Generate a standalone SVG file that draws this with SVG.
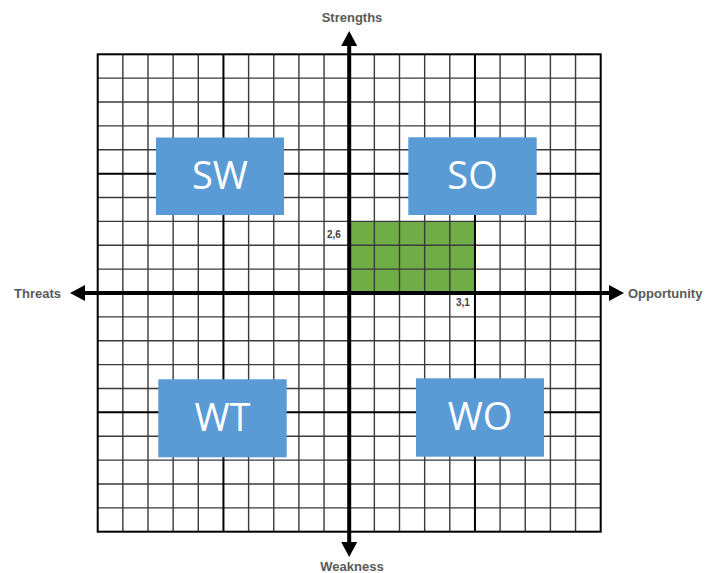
<svg xmlns="http://www.w3.org/2000/svg" width="710" height="573" viewBox="0 0 710 573">
<style>
.thin{stroke:#3a3a3a;stroke-width:1.4;fill:none}
.thick{stroke:#000;stroke-width:2;fill:none}
.axis{stroke:#000;stroke-width:4;fill:none}
.head{fill:#000}
.lbl{font-family:"Liberation Sans",Arial,sans-serif;font-weight:bold;font-size:13px;fill:#595959}
.coord{font-family:"Liberation Sans",Arial,sans-serif;font-weight:bold;font-size:10px;fill:#404040}
.box{fill:#5B9BD5}
.boxt{font-family:"Open Sans","Liberation Sans",Arial,sans-serif;font-size:38px;fill:#fff;text-anchor:middle}
</style>
<rect width="710" height="573" fill="#fff"/>
<g id="green-area">
<rect x="349.2" y="221.4" width="125.75" height="71.6" fill="#70AD47"/>
</g>
<g id="grid">
<path class="thin" d="M122.85 54.3V531.7M148 54.3V531.7M173.15 54.3V531.7M198.3 54.3V531.7M248.6 54.3V531.7M273.75 54.3V531.7M298.9 54.3V531.7M324.05 54.3V531.7M374.35 54.3V531.7M399.5 54.3V531.7M424.65 54.3V531.7M449.8 54.3V531.7M500.1 54.3V531.7M525.25 54.3V531.7M550.4 54.3V531.7M575.55 54.3V531.7"/>
<path class="thin" d="M97.7 78.17H600.7M97.7 102.04H600.7M97.7 125.91H600.7M97.7 149.78H600.7M97.7 197.52H600.7M97.7 221.39H600.7M97.7 245.26H600.7M97.7 269.13H600.7M97.7 316.87H600.7M97.7 340.74H600.7M97.7 364.61H600.7M97.7 388.48H600.7M97.7 436.22H600.7M97.7 460.09H600.7M97.7 483.96H600.7M97.7 507.83H600.7"/>
<path class="thick" d="M223.45 54.3V531.7M474.95 54.3V531.7M97.7 173.65H600.7M97.7 412.35H600.7"/>
<rect class="thick" x="97.7" y="54.3" width="503" height="477.4"/>
</g>
<g id="connectors">
<path class="axis" d="M349.2 44V545"/>
<polygon class="head" points="349.2,31 341.2,46 357.2,46"/>
<polygon class="head" points="349.2,557 341.2,542 357.2,542"/>
<path class="axis" d="M83 293H611"/>
<polygon class="head" points="70,293 85,285 85,301"/>
<polygon class="head" points="624,293 609,285 609,301"/>
</g>
<g id="label-strengths"><text class="lbl" x="352" y="22" text-anchor="middle">Strengths</text></g>
<g id="label-weakness"><text class="lbl" x="352" y="571" text-anchor="middle">Weakness</text></g>
<g id="label-threats"><text class="lbl" x="14" y="298">Threats</text></g>
<g id="label-opportunity"><text class="lbl" x="628" y="298">Opportunity</text></g>
<g id="coord-26"><text class="coord" x="327" y="238">2,6</text></g>
<g id="coord-31"><text class="coord" x="456" y="306">3,1</text></g>
<g id="node-sw"><rect class="box" x="156" y="137.5" width="128" height="77.5"/><text class="boxt" x="220" y="189">SW</text></g>
<g id="node-so"><rect class="box" x="408.3" y="137.3" width="128.4" height="77.7"/><text class="boxt" x="472.5" y="189">SO</text></g>
<g id="node-wt"><rect class="box" x="158.3" y="379.3" width="128.4" height="78"/><text class="boxt" x="222.5" y="431">WT</text></g>
<g id="node-wo"><rect class="box" x="416" y="378.3" width="128" height="78.4"/><text class="boxt" x="480" y="430">WO</text></g>
</svg>
